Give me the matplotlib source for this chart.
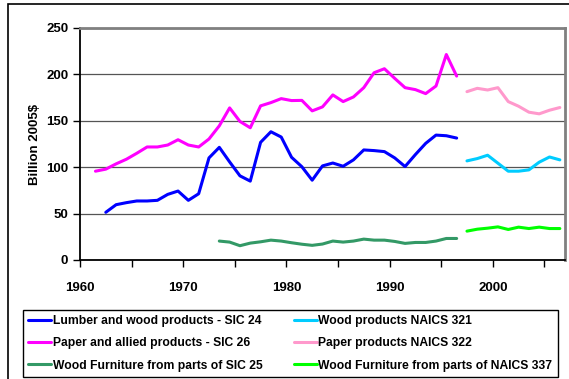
import numpy as np
import matplotlib
matplotlib.use("Agg")
from matplotlib import pyplot as plt
from matplotlib.patches import Rectangle

plt.rcParams['font.family'] = ['Liberation Sans', 'DejaVu Sans']

# SIC series (to 1996)
lumber_years = list(range(1962, 1997))
lumber = [51.4, 59.6, 61.8, 63.6, 63.6, 64.3, 70.7, 74.3, 64.3, 71.4,
          110.0, 121.4, 105.7, 90.7, 85.0, 126.8, 138.2, 132.5, 110.7, 100.5,
          86.0, 101.4, 104.5, 101.0, 107.9, 118.6, 117.9, 116.8, 110.0, 100.7,
          113.6, 125.7, 134.6, 133.9, 131.4]

paper_years = list(range(1961, 1997))
paper = [95.7, 97.9, 103.6, 108.6, 115.0, 121.8, 121.8, 123.9, 129.6, 123.9,
         121.8, 130.4, 144.6, 163.9, 149.3, 142.5, 166.1, 169.6, 173.9, 171.8,
         172.0, 160.7, 165.0, 177.9, 170.7, 175.7, 185.7, 201.8, 206.1, 195.7,
         185.7, 183.6, 179.3, 187.5, 221.4, 198.2]

furn_sic_years = list(range(1973, 1997))
furn_sic = [20.4, 19.3, 15.4, 18.2, 19.6, 21.4, 20.4, 18.6, 17.0, 15.8,
            17.2, 20.4, 19.3, 20.4, 22.5, 21.4, 21.4, 20.0, 17.9, 18.9,
            18.9, 20.4, 23.2, 23.2]

# NAICS series
naics_years = list(range(1997, 2007))
wood_naics = [106.8, 109.3, 112.9, 104.3, 95.7, 95.7, 97.1, 105.4, 111.0, 107.9]
paper_naics = [181.4, 185.0, 183.2, 185.7, 170.7, 165.7, 159.3, 157.5, 161.4, 164.3]
furn_naics = [31.1, 33.2, 34.3, 35.7, 32.9, 35.4, 33.9, 35.4, 33.9, 33.9]

labels = ["Lumber and wood products - SIC 24",
          "Paper and allied products - SIC 26",
          "Wood Furniture from parts of SIC 25",
          "Wood products NAICS 321",
          "Paper products NAICS 322",
          "Wood Furniture from parts of NAICS 337"]
colors = ["#0000FF", "#FF00FF", "#339966", "#00CCFF", "#FF99CC", "#00FF00"]

# points sit in the middle of each year category
mid = 0.5

fig = plt.figure(figsize=(5.69, 3.79), dpi=100)
ax = fig.add_axes([80 / 569, 1 - 260 / 379, 485 / 569, 232 / 379])

series = [(lumber_years, lumber), (paper_years, paper), (furn_sic_years, furn_sic),
          (naics_years, wood_naics), (naics_years, paper_naics), (naics_years, furn_naics)]
for (yrs, vals), lab, c in zip(series, labels, colors):
    ax.plot(np.array(yrs) + mid, vals, color=c, lw=2.2, label=lab,
            solid_joinstyle='round', solid_capstyle='round')

ax.set_xlim(1960, 2007)
ax.set_ylim(0, 250)
ax.set_yticks(range(0, 251, 50))
ax.set_xticks(range(1960, 2006, 5))
ax.set_xticklabels([str(y) if y % 10 == 0 else "" for y in range(1960, 2006, 5)])
ax.grid(axis='y', color='#555555', lw=0.9)
ax.set_axisbelow(True)

for s in ['left', 'bottom']:
    ax.spines[s].set_color('black')
    ax.spines[s].set_linewidth(1.3)
for s in ['top', 'right']:
    ax.spines[s].set_color('#808080')
    ax.spines[s].set_linewidth(2)

ax.tick_params(axis='both', direction='out', length=5, width=1, labelsize=9.5)
ax.tick_params(axis='x', pad=11)
for t in ax.get_xticklabels() + ax.get_yticklabels():
    t.set_fontweight('bold')

ax.set_ylabel("Billion 2005$", fontsize=9.5, fontweight='bold', labelpad=4)

leg = fig.legend(loc='upper left', ncol=2, bbox_to_anchor=(22.7 / 569, 1 - 309.7 / 379),
                 fancybox=False, edgecolor='black', framealpha=1,
                 prop={'size': 8.7, 'weight': 'bold'}, handlelength=1.9, handletextpad=0.12,
                 columnspacing=2.6, labelspacing=0.85, borderpad=0.45, borderaxespad=0)
leg.get_frame().set_linewidth(1)
for h in leg.get_lines():
    h.set_linewidth(2.2)

fig.patches.append(Rectangle((8 / 569, -0.1), 1.2, 1.1 - 4 / 379, transform=fig.transFigure,
                             fill=False, edgecolor='black', lw=1.2))

fig.savefig("out.png", dpi=100)
